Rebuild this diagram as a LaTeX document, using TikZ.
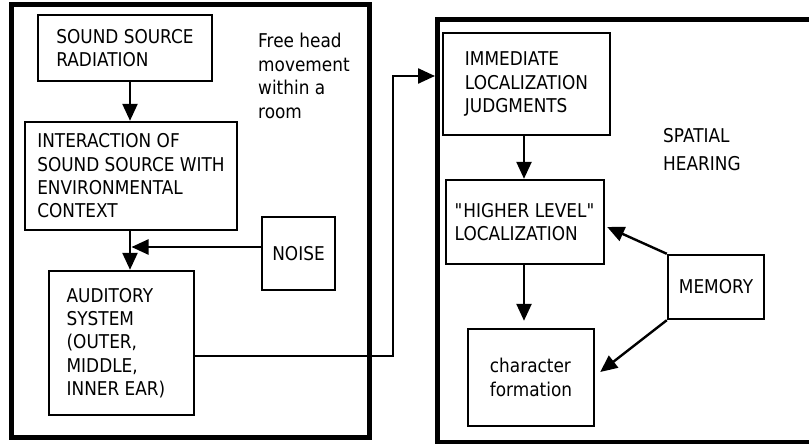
\documentclass[tikz,border=0pt]{standalone}
\usepackage{fontspec}
\setmainfont{DejaVu Sans}[FakeStretch=0.89]
\usetikzlibrary{arrows.meta,calc}
\newcommand\strq{\XeTeXglyph\the\XeTeXcharglyph"0022\relax}
\begin{document}
\begin{tikzpicture}[x=1pt,y=-1pt,
  frame/.style={draw, line width=5pt, inner sep=0pt},
  box/.style={draw, line width=2.4pt, align=left, inner sep=0pt,
    font=\fontsize{19}{23.3}\selectfont},
  lbl/.style={align=left, inner sep=0pt, font=\fontsize{19}{23.5}\selectfont},
  arr/.style={line width=2.4pt, -{Triangle[length=17pt,width=15pt]}},
  conn/.style={line width=2.4pt}]
\useasboundingbox (0,0) rectangle (809,444);
\clip (0,0) rectangle (809,444);
% frames
\node[frame, minimum width=358.5pt, minimum height=432.5pt] (room) at (190.25,221.25) {};
\node[frame, minimum width=420pt, minimum height=422.5pt] (hear) at (647.5,230.75) {};
% boxes
\node[box, minimum width=174pt, minimum height=66pt] (ssr) at (125,48) {SOUND SOURCE\\RADIATION};
\node[box, minimum width=212pt, minimum height=108pt] (inter) at (131,176) {INTERACTION OF\\SOUND SOURCE WITH\\ENVIRONMENTAL\\CONTEXT};
\node[box, minimum width=73pt, minimum height=73pt] (noise) at (298.5,253.5) {NOISE};
\node[box, minimum width=145pt, minimum height=144pt] (aud) at (121.5,343) {AUDITORY\\SYSTEM\\(OUTER,\\MIDDLE,\\INNER EAR)\rule{11pt}{0pt}};
\node[box, minimum width=167pt, minimum height=102pt] (imm) at (526.5,84) {IMMEDIATE\\LOCALIZATION\\JUDGMENTS};
\node[box, minimum width=158pt, minimum height=84pt] (high) at (525,222) {\strq HIGHER LEVEL\strq\\LOCALIZATION};
\node[box, minimum width=96pt, minimum height=64pt] (mem) at (716,287) {MEMORY};
\node[box, minimum width=126pt, minimum height=97pt] (char) at (531,377.5) {character\\formation};
% free labels
\node[lbl, anchor=north west] (free) at (258,33) {Free head\\movement\\within a\\room};
\node[lbl, anchor=north west, font=\fontsize{19}{28.3}\selectfont] (spatial) at (663,128) {SPATIAL\\HEARING};
% helper coordinates
\coordinate (colL) at (130,0);
\coordinate (nz) at (131.5,247);
\coordinate (outY) at (0,356);
\coordinate (riser) at (393,356);
\coordinate (inY) at (0,76);
\coordinate (colR) at (524,0);
% connectors
\draw[arr] (ssr.south -| colL) -- (inter.north -| colL);
\draw[arr] (inter.south -| colL) -- (aud.north -| colL);
\draw[arr] (noise.west |- nz) -- (nz);
\draw[arr] (aud.east |- outY) -- (riser) -- (riser |- inY) -- (hear.west |- inY);
\draw[arr] (imm.south -| colR) -- (high.north -| colR);
\draw[arr, shorten >=7pt] (high.south -| colR) -- (char.north -| colR);
\draw[arr] (mem.north west) -- ([yshift=-5pt,xshift=2pt]high.east);
\draw[arr] (mem.south west) -- ([xshift=5pt,yshift=5.5pt]char.east);
\end{tikzpicture}
\end{document}
